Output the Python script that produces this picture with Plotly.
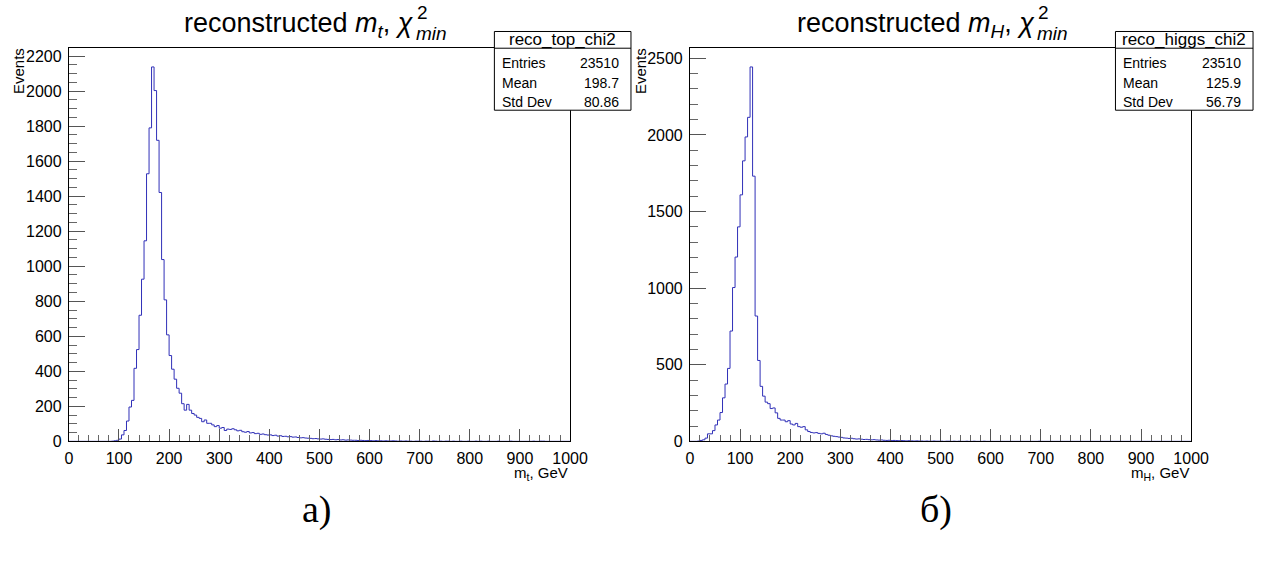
import plotly.graph_objects as go

# ---------------- data ----------------
bin_width = 5
x_edges = [i * bin_width for i in range(201)]

top_counts = [
    0, 0, 0, 0, 0, 0, 0, 0, 0, 0, 0, 0, 0, 0, 0, 0, 0, 1, 3, 6,
    13, 37, 62, 116, 196, 234, 417, 524, 720, 926, 1145, 1528, 1790, 2138, 2003, 1719, 1421, 1038, 808, 608,
    490, 412, 355, 303, 275, 215, 178, 211, 178, 159, 150, 137, 131, 112, 122, 103, 103, 94, 84, 90,
    75, 79, 62, 70, 68, 72, 66, 60, 63, 55, 52, 56, 48, 50, 44, 46, 40, 42, 38, 36,
    37, 33, 35, 30, 32, 28, 29, 26, 27, 24, 25, 22, 20, 21, 19, 18, 17, 15, 16, 14,
    13, 14, 12, 11, 10, 11, 9, 10, 8, 9, 7, 8, 7, 6, 6, 5, 6, 5, 4, 5,
    4, 3, 4, 3, 3, 2, 3, 2, 2, 3, 2, 1, 2, 1, 2, 1, 1, 0, 1, 1,
    1, 0, 1, 1, 0, 2, 1, 0, 1, 0, 1, 1, 0, 1, 0, 0, 1, 0, 0, 1,
    0, 0, 1, 0, 1, 0, 0, 1, 0, 0, 0, 1, 0, 0, 0, 0, 1, 0, 0, 0,
    0, 0, 0, 0, 0, 1, 0, 0, 1, 1, 0, 0, 0, 0, 0, 0, 0, 0, 0, 0,
]

higgs_counts = [
    0, 0, 0, 2, 6, 10, 21, 49, 49, 70, 107, 139, 188, 284, 374, 476, 720, 1004, 1203, 1400,
    1609, 1831, 1987, 2115, 2444, 1731, 818, 528, 359, 295, 256, 246, 214, 218, 186, 150, 139, 139, 128, 135,
    113, 107, 117, 96, 92, 96, 75, 64, 58, 55, 57, 52, 49, 53, 45, 40, 36, 33, 31, 28,
    26, 22, 21, 19, 20, 17, 15, 16, 14, 12, 13, 11, 10, 11, 9, 8, 9, 7, 6, 7,
    5, 6, 5, 4, 5, 4, 3, 4, 3, 2, 3, 2, 2, 1, 2, 1, 1, 2, 1, 1,
    1, 0, 1, 1, 0, 1, 0, 1, 0, 0, 1, 0, 0, 1, 0, 0, 0, 1, 0, 0,
    0, 0, 0, 0, 0, 0, 0, 0, 0, 0, 0, 0, 0, 0, 0, 0, 0, 0, 0, 1,
    0, 0, 0, 0, 0, 0, 0, 0, 0, 0, 0, 0, 0, 0, 0, 0, 0, 0, 0, 0,
    0, 0, 0, 0, 0, 0, 0, 0, 0, 0, 0, 0, 0, 0, 0, 0, 0, 0, 0, 0,
    0, 0, 0, 0, 0, 0, 0, 0, 0, 0, 0, 0, 0, 0, 0, 0, 0, 0, 0, 0,
]

stat_labels = ["Entries", "Mean", "Std Dev"]
top_stats = ["23510", "198.7", "80.86"]
higgs_stats = ["23510", "125.9", "56.79"]
hist_names = ["reco_top_chi2", "reco_higgs_chi2"]
x_tick_vals = list(range(0, 1001, 100))
top_y_ticks = list(range(0, 2201, 200))
higgs_y_ticks = list(range(0, 2501, 500))

# ---------------- layout helpers ----------------
W, H = 1273, 564
FONT = "Liberation Sans, Arial, Helvetica, sans-serif"
LINE_COL = "#3030b8"


def px(x):
    return x / W


def py(y):
    return 1 - y / H


frame_top, frame_bot = 49, 448.5
panels = [
    dict(x0=66, x1=576, counts=top_counts, yt=top_y_ticks, ymin=50,
         stats=top_stats, name=hist_names[0], box=(499, 638), sub="t", lab_x=15),
    dict(x0=698, x1=1208, counts=higgs_counts, yt=higgs_y_ticks, ymin=100,
         stats=higgs_stats, name=hist_names[1], box=(1131, 1271), sub="H", lab_x=647),
]

fig = go.Figure()
annotations = []
shapes = []

for i, p in enumerate(panels):
    xa = "x" if i == 0 else "x2"
    ya = "y" if i == 0 else "y2"
    ys = p["counts"] + [p["counts"][-1]]
    fig.add_trace(go.Scatter(
        x=x_edges, y=ys, mode="lines", line=dict(shape="hv", color=LINE_COL, width=1),
        xaxis=xa, yaxis=ya, showlegend=False, hoverinfo="skip"))
    ymax = 1.05 * max(p["counts"])
    axname = "xaxis" if i == 0 else "xaxis2"
    ayname = "yaxis" if i == 0 else "yaxis2"
    fig.layout[axname] = dict(
        domain=[px(p["x0"]), px(p["x1"])], range=[0, 1000], anchor=ya,
        tickmode="array", tickvals=x_tick_vals, ticktext=[str(v) for v in x_tick_vals],
        ticks="inside", ticklen=12, tickcolor="#555", tickwidth=1, ticklabelstandoff=2,
        minor=dict(dtick=20, ticks="inside", ticklen=6, tickcolor="#666", tickwidth=1),
        showline=True, linecolor="black", linewidth=1, mirror=True,
        showgrid=False, zeroline=False,
        tickfont=dict(family=FONT, size=16, color="black"))
    fig.layout[ayname] = dict(
        domain=[py(frame_bot), py(frame_top)], range=[0, ymax], anchor=xa,
        tickmode="array", tickvals=p["yt"], ticktext=[str(v) for v in p["yt"]],
        ticks="inside", ticklen=16, tickcolor="#555", tickwidth=1, ticklabelstandoff=3,
        minor=dict(dtick=p["ymin"], ticks="inside", ticklen=8, tickcolor="#666", tickwidth=1),
        showline=True, linecolor="black", linewidth=1, mirror=True,
        showgrid=False, zeroline=False,
        tickfont=dict(family=FONT, size=16, color="black"))

    # title with stacked super/subscript
    xc = p["x0"] + 353
    annotations.append(dict(
        x=px(xc), y=py(25), xref="paper", yref="paper", xanchor="right", yanchor="middle",
        text="reconstructed <i>m<sub>%s</sub></i>, <i>χ</i>" % p["sub"], showarrow=False,
        font=dict(family=FONT, size=27, color="black")))
    annotations.append(dict(
        x=px(xc - 2), y=py(34), xref="paper", yref="paper", xanchor="left", yanchor="middle",
        text="<i>min</i>", showarrow=False, font=dict(family=FONT, size=19, color="black")))
    annotations.append(dict(
        x=px(xc - 1), y=py(13), xref="paper", yref="paper", xanchor="left", yanchor="middle",
        text="2", showarrow=False, font=dict(family=FONT, size=19, color="black")))

    # stat box
    bx0, bx1 = p["box"]
    shapes.append(dict(type="rect", xref="paper", yref="paper",
                       x0=px(bx0), x1=px(bx1), y0=py(112), y1=py(32),
                       line=dict(color="black", width=1), fillcolor="white", layer="above"))
    shapes.append(dict(type="line", xref="paper", yref="paper",
                       x0=px(bx0), x1=px(bx1), y0=py(49), y1=py(49),
                       line=dict(color="black", width=1), layer="above"))
    annotations.append(dict(
        x=px((bx0 + bx1) / 2), y=py(40.5), xref="paper", yref="paper",
        xanchor="center", yanchor="middle", text=p["name"], showarrow=False,
        font=dict(family=FONT, size=17, color="black")))
    for k, (lab, val) in enumerate(zip(stat_labels, p["stats"])):
        yy = 64 + 20 * k
        annotations.append(dict(
            x=px(bx0 + 6), y=py(yy), xref="paper", yref="paper", xanchor="left",
            yanchor="middle", text=lab, showarrow=False,
            font=dict(family=FONT, size=14, color="black")))
        annotations.append(dict(
            x=px(bx1 - 10), y=py(yy), xref="paper", yref="paper", xanchor="right",
            yanchor="middle", text=val, showarrow=False,
            font=dict(family=FONT, size=14, color="black")))

    # axis titles
    annotations.append(dict(
        x=px(p["lab_x"]), y=py(47), xref="paper", yref="paper", xanchor="center",
        yanchor="top", text="Events", textangle=-90, showarrow=False,
        font=dict(family=FONT, size=15, color="black")))
    annotations.append(dict(
        x=px(p["x1"]), y=py(481), xref="paper", yref="paper", xanchor="right",
        yanchor="middle", text="m<sub>%s</sub>, GeV" % p["sub"], showarrow=False,
        font=dict(family=FONT, size=15, color="black")))

# panel captions
annotations.append(dict(x=px(318), y=py(518), xref="paper", yref="paper", xanchor="center",
                        yanchor="middle", text="а)", showarrow=False,
                        font=dict(family="Liberation Serif, DejaVu Serif, serif", size=38, color="black")))
annotations.append(dict(x=px(948), y=py(518), xref="paper", yref="paper", xanchor="center",
                        yanchor="middle", text="б)", showarrow=False,
                        font=dict(family="Liberation Serif, DejaVu Serif, serif", size=38, color="black")))

fig.update_layout(
    width=W, height=H, margin=dict(l=0, r=0, t=0, b=0),
    paper_bgcolor="white", plot_bgcolor="white",
    annotations=annotations, shapes=shapes, showlegend=False)

fig.write_html(
    "out.html", config={"displayModeBar": False},
    post_script=("document.documentElement.style.margin='0';"
                 "document.body.style.margin='0';document.body.style.overflow='hidden';"
                 "var g=document.querySelector('.plotly-graph-div');"
                 "g.style.position='fixed';g.style.left='0px';g.style.top='0px';"))
